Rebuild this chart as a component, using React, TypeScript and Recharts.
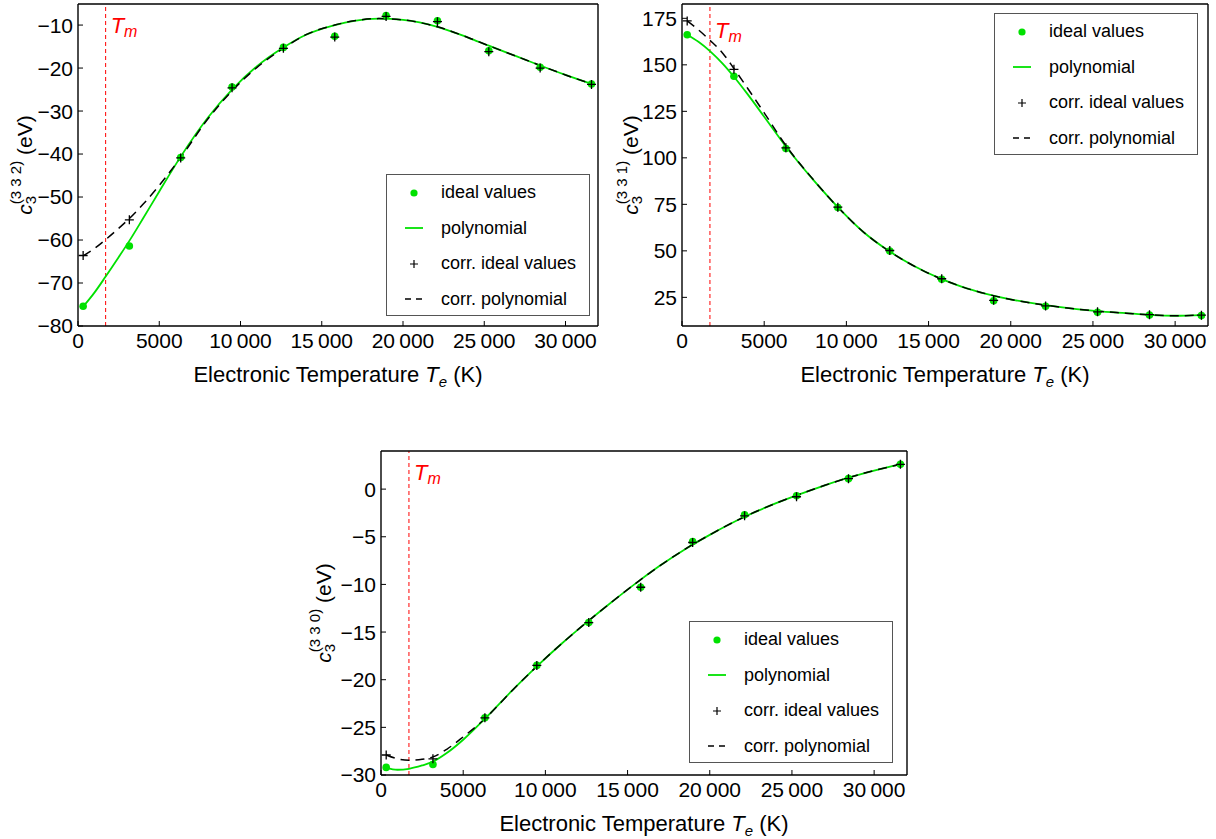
import React from "react";
import {
  ComposedChart,
  Line,
  Scatter,
  XAxis,
  YAxis,
  ReferenceLine,
  Legend,
} from "recharts";

const FONT = '"Liberation Sans", Arial, Helvetica, sans-serif';
const GREEN = "#00e100";

// temperatures of the computed values (K)
const temps = [316, 3160, 6320, 9480, 12640, 15800, 18960, 22120, 25280, 28440, 31600];
const curveTemps = [
  316, 1000, 1700, 2500, 3160, 4000, 5000, 6320, 8000, 9480, 11000, 12640,
  14000, 15800, 17000, 18500, 20000, 22120, 24000, 25280, 27000, 28440, 30000, 31600,
];
const xTicks = [0, 5000, 10000, 15000, 20000, 25000, 30000];
const meltT = 1700;

// c3 (3 3 2)
const ideal332 = [-75.4, -61.4, -40.8, -24.4, -15.2, -12.6, -7.8, -9.0, -16.0, -19.8, -23.7];
const corr332 = [-63.6, -55.3, -40.9, -24.6, -15.4, -12.8, -8.0, -9.2, -16.2, -20.0, -23.8];
const poly332 = [
  -75.5, -72.3, -68.5, -64.0, -60.2, -55.0, -48.7, -40.6, -31.5, -25.0, -19.6, -15.2,
  -12.3, -10.0, -9.0, -8.5, -8.8, -10.4, -12.9, -14.8, -17.3, -19.4, -21.6, -23.7,
];
const corrPoly332 = [
  -63.7, -62.0, -59.9, -57.3, -55.0, -51.7, -47.3, -40.8, -31.8, -25.3, -19.9, -15.4,
  -12.3, -10.0, -9.0, -8.5, -8.8, -10.4, -12.9, -14.8, -17.3, -19.4, -21.6, -23.7,
];
const yTicks332 = [-80, -70, -60, -50, -40, -30, -20, -10];

// c3 (3 3 1)
const ideal331 = [166.2, 143.9, 105.0, 73.3, 49.9, 34.7, 23.2, 20.2, 17.0, 15.5, 15.2];
const corr331 = [173.6, 147.6, 105.4, 73.5, 50.2, 35.0, 23.4, 20.4, 17.2, 15.7, 15.4];
const poly331 = [
  166.2, 162.4, 157.4, 150.4, 143.6, 134.1, 122.1, 106.1, 88.0, 73.5, 60.4, 49.6,
  42.4, 34.8, 30.8, 26.9, 23.9, 20.8, 18.7, 17.6, 16.5, 15.6, 15.1, 15.5,
];
const corrPoly331 = [
  173.6, 168.8, 163.2, 156.0, 148.0, 137.3, 124.2, 106.6, 88.2, 73.5, 60.4, 49.6,
  42.4, 34.8, 30.8, 26.9, 23.9, 20.8, 18.7, 17.6, 16.5, 15.6, 15.1, 15.5,
];
const yTicks331 = [25, 50, 75, 100, 125, 150, 175];

// c3 (3 3 0)
const ideal330 = [-29.2, -28.9, -24.0, -18.5, -14.0, -10.3, -5.5, -2.7, -0.7, 1.1, 2.6];
const corr330 = [-27.9, -28.3, -24.0, -18.5, -14.0, -10.3, -5.6, -2.8, -0.8, 1.1, 2.6];
const poly330 = [
  -29.25, -29.45, -29.35, -29.0, -28.6, -27.7, -26.3, -24.1, -21.1, -18.6, -16.2, -13.8,
  -11.9, -9.5, -8.0, -6.3, -4.8, -2.9, -1.5, -0.65, 0.4, 1.2, 1.95, 2.6,
];
const corrPoly330 = [
  -27.9, -28.3, -28.45, -28.35, -28.1, -27.3, -26.0, -24.1, -21.1, -18.6, -16.2, -13.8,
  -11.9, -9.5, -8.0, -6.3, -4.8, -2.9, -1.5, -0.65, 0.4, 1.2, 1.95, 2.6,
];
const yTicks330 = [-30, -25, -20, -15, -10, -5, 0];

const legendNames = ["ideal values", "polynomial", "corr. ideal values", "corr. polynomial"];

const pts = (ys: number[]) => temps.map((t, i) => ({ t, v: ys[i] }));
const curve = (ys: number[]) => curveTemps.map((t, i) => ({ t, v: ys[i] }));

const fmtX = (v: number) =>
  v >= 10000 ? `${Math.floor(v / 1000)}\u2009${String(v % 1000).padStart(3, "0")}` : String(v);
const fmtY = (v: number) => (v < 0 ? `\u2212${-v}` : String(v));

function XTitle({ viewBox }: any) {
  const x = viewBox.x + viewBox.width / 2;
  const y = viewBox.y + 56;
  return (
    <text x={x} y={y} textAnchor="middle" fontFamily={FONT} fontSize={22} fill="#000">
      Electronic Temperature{" "}
      <tspan fontStyle="italic">T</tspan>
      <tspan fontStyle="italic" fontSize={15} dy={5}>e</tspan>
      <tspan dy={-5}> (K)</tspan>
    </text>
  );
}

function YTitle({ viewBox, sup, dist }: any) {
  const x = viewBox.x + viewBox.width - dist;
  const y = viewBox.y + viewBox.height / 2;
  return (
    <text
      x={x}
      y={y}
      transform={`rotate(-90 ${x} ${y})`}
      textAnchor="middle"
      fontFamily={FONT}
      fontSize={21}
      fill="#000"
    >
      <tspan fontStyle="italic">c</tspan>
      <tspan fontSize={15} dy={4}>3</tspan>
      <tspan fontSize={15} dx={-8.3} dy={-15}>{sup}</tspan>
      <tspan dy={11}> (eV)</tspan>
    </text>
  );
}

function TmLabel({ viewBox, dy }: any) {
  return (
    <text x={viewBox.x + 5} y={viewBox.y + dy} fill="#ff0000" fontFamily={FONT} fontSize={22} fontStyle="italic">
      T<tspan fontSize={16} dy={4}>m</tspan>
    </text>
  );
}

function LegendIcon({ i }: { i: number }) {
  return (
    <svg width={30} height={14}>
      {i === 0 && <circle cx={15} cy={7} r={3.6} fill={GREEN} />}
      {i === 1 && <line x1={6} x2={24} y1={7} y2={7} stroke={GREEN} strokeWidth={1.8} />}
      {i === 2 && <path d="M11,7h8M15,3v8" stroke="#000" strokeWidth={1.2} />}
      {i === 3 && <path d="M6,7h6M17,7h6" stroke="#000" strokeWidth={1.5} />}
    </svg>
  );
}

function LegendBox() {
  return (
    <div
      style={{
        width: 204,
        height: 142,
        boxSizing: "border-box",
        border: "1px solid #555",
        background: "#fff",
        fontFamily: FONT,
        fontSize: 18,
        color: "#000",
      }}
    >
      {legendNames.map((n, i) => (
        <div key={n} style={{ height: 35.5, display: "flex", alignItems: "center" }}>
          <div style={{ width: 54, display: "flex", justifyContent: "center" }}>
            <LegendIcon i={i} />
          </div>
          <span>{n}</span>
        </div>
      ))}
    </div>
  );
}

const dot = (p: any) => <circle cx={p.cx} cy={p.cy} r={3.8} fill={GREEN} />;
const plus = (p: any) => (
  <path d={`M${p.cx - 4.5},${p.cy}h9M${p.cx},${p.cy - 4.5}v9`} stroke="#000" strokeWidth={1.3} />
);

const axisLine = { stroke: "#000", strokeWidth: 1.4 };
const tickFont = { fontSize: 21, fill: "#000", fontFamily: FONT };

function Panel(props: any) {
  const { left, top, width, height, margin, yDomain, yTicks, ideal, corr, poly, corrPoly, sup, legendPos, dist, tmDy } =
    props;
  return (
    <div style={{ position: "absolute", left, top }}>
      <ComposedChart width={width} height={height} margin={margin}>
        <XAxis
          xAxisId="b"
          dataKey="t"
          type="number"
          domain={[0, 32000]}
          allowDataOverflow
          ticks={xTicks}
          interval={0}
          tickFormatter={fmtX}
          height={60}
          tickSize={-5}
          tickMargin={12}
          axisLine={axisLine}
          tickLine={{ stroke: "#000" }}
          tick={tickFont}
          label={<XTitle />}
        />
        <XAxis
          xAxisId="top"
          orientation="top"
          type="number"
          domain={[0, 32000]}
          allowDataOverflow
          ticks={xTicks}
          interval={0}
          height={1}
          tickSize={-5}
          axisLine={axisLine}
          tickLine={{ stroke: "#000" }}
          tick={false}
        />
        <YAxis
          yAxisId="l"
          dataKey="v"
          type="number"
          domain={yDomain}
          allowDataOverflow
          ticks={yTicks}
          interval={0}
          tickFormatter={fmtY}
          width={60}
          tickSize={-5}
          tickMargin={10}
          axisLine={axisLine}
          tickLine={{ stroke: "#000" }}
          tick={tickFont}
          label={<YTitle sup={sup} dist={dist} />}
        />
        <YAxis
          yAxisId="r"
          orientation="right"
          type="number"
          domain={yDomain}
          allowDataOverflow
          ticks={yTicks}
          interval={0}
          width={1}
          tickSize={-5}
          axisLine={axisLine}
          tickLine={{ stroke: "#000" }}
          tick={false}
        />
        <ReferenceLine
          xAxisId="b"
          yAxisId="l"
          x={meltT}
          stroke="#ff0000"
          strokeWidth={1}
          strokeDasharray="4 3"
          label={<TmLabel dy={tmDy} />}
        />
        <Scatter xAxisId="b" yAxisId="l" data={pts(ideal)} dataKey="v" shape={dot} isAnimationActive={false} />
        <Line
          xAxisId="b"
          yAxisId="l"
          data={curve(poly)}
          dataKey="v"
          type="monotone"
          stroke={GREEN}
          strokeWidth={1.8}
          dot={false}
          activeDot={false}
          isAnimationActive={false}
        />
        <Scatter xAxisId="b" yAxisId="l" data={pts(corr)} dataKey="v" shape={plus} isAnimationActive={false} />
        <Line
          xAxisId="b"
          yAxisId="l"
          data={curve(corrPoly)}
          dataKey="v"
          type="monotone"
          stroke="#000"
          strokeWidth={1.5}
          strokeDasharray="9 6"
          dot={false}
          activeDot={false}
          isAnimationActive={false}
        />
        <Legend
          layout="vertical"
          align="center"
          verticalAlign="middle"
          content={<LegendBox />}
          wrapperStyle={{ left: legendPos[0], top: legendPos[1], width: 204, height: 142 }}
        />
      </ComposedChart>
    </div>
  );
}

export default function App() {
  return (
    <div style={{ position: "relative", width: 1216, height: 839, background: "#fff" }}>
      <style>{"body{margin:0}"}</style>
      <Panel
        left={0}
        top={0}
        width={610}
        height={400}
        margin={{ top: 3, right: 11, bottom: 14, left: 18 }}
        yDomain={[-80, -5.1]}
        yTicks={yTicks332}
        ideal={ideal332}
        corr={corr332}
        poly={poly332}
        corrPoly={corrPoly332}
        sup="(3 3 2)"
        legendPos={[386, 174]}
        dist={46}
        tmDy={29}
      />
      <Panel
        left={608}
        top={0}
        width={608}
        height={400}
        margin={{ top: 3, right: 7, bottom: 14, left: 14 }}
        yDomain={[9.6, 182.7]}
        yTicks={yTicks331}
        ideal={ideal331}
        corr={corr331}
        poly={poly331}
        corrPoly={corrPoly331}
        sup="(3 3 1)"
        legendPos={[386, 13]}
        dist={44}
        tmDy={34}
      />
      <Panel
        left={300}
        top={430}
        width={616}
        height={409}
        margin={{ top: 20, right: 8, bottom: 4, left: 21 }}
        yDomain={[-30, 4]}
        yTicks={yTicks330}
        ideal={ideal330}
        corr={corr330}
        poly={poly330}
        corrPoly={corrPoly330}
        sup="(3 3 0)"
        legendPos={[389, 191]}
        dist={50}
        tmDy={29}
      />
    </div>
  );
}
